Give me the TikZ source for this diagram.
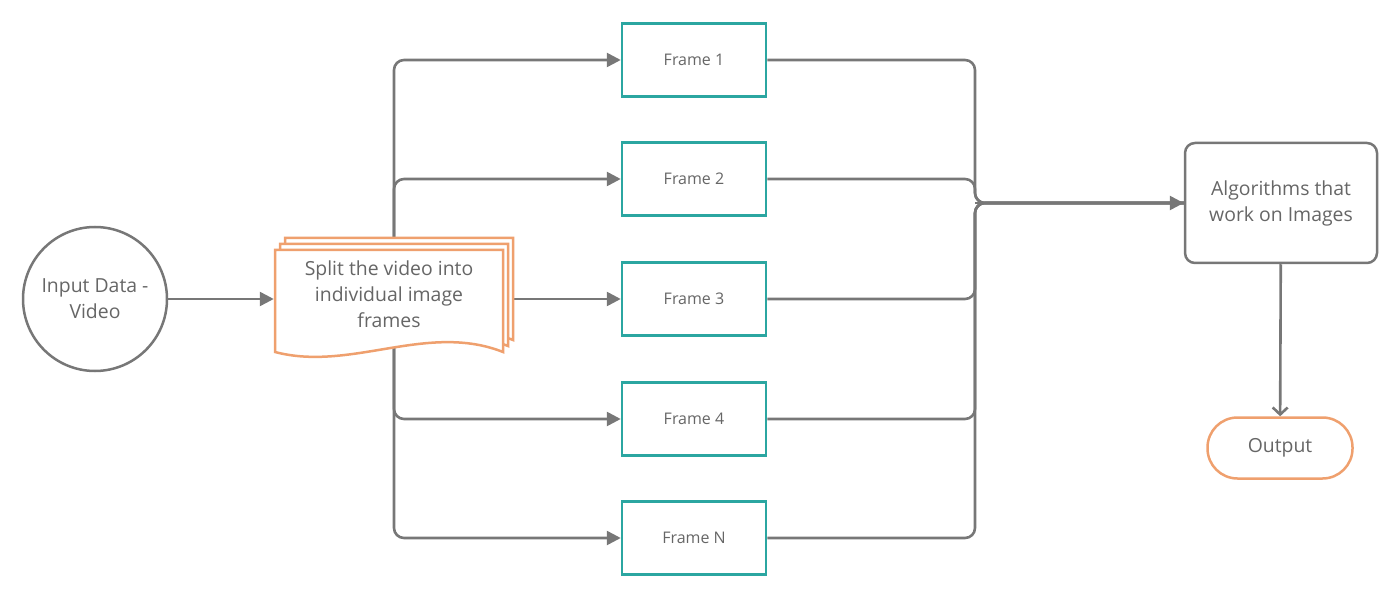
\documentclass[tikz,border=0pt]{standalone}
\usepackage{fontspec}
\setmainfont{Open Sans}
\usepackage{xcolor}
\usepackage{tikz}
\usetikzlibrary{arrows.meta}
\usetikzlibrary{backgrounds}
\usetikzlibrary{positioning}

\definecolor{linegray}{HTML}{777777}
\definecolor{textgray}{HTML}{666666}
\definecolor{framecol}{HTML}{2BA6A1}
\definecolor{pageorange}{HTML}{EFA06E}

\begin{document}
\begin{tikzpicture}[x=0.5pt,y=-0.5pt,line width=1.25pt,
  every node/.style={text=textgray,align=center,font=\fontsize{9.7}{13}\selectfont}]
	\tikzstyle{conn}=[draw=linegray, line width=1.3pt, rounded corners=5pt]
	\tikzstyle{arr}=[conn, -{Triangle[length=7pt,width=7pt]}]
	\tikzstyle{frm}=[draw=framecol, rectangle, minimum width=72pt, minimum height=36.5pt, font=\fontsize{8}{11}\selectfont]
	\tikzstyle{page}=[draw=pageorange, fill=white]
	\useasboundingbox (0,0) rectangle (1400,598);

	\node[draw=linegray, circle, minimum size=72pt, inner sep=0pt] (inp) at (95,299) {Input Data -\\Video};

	% stacked pages
	\foreach \o in {2,1,0}{
		\draw[page, shift={(5*\o,-6*\o)}] (275,250) -- (503,250) -- (503,352) .. controls (427,322) and (351,372) .. (275,352) -- cycle;
	}
	\node[inner sep=0pt, minimum width=114pt, minimum height=43pt] (doc) at (389,294) {Split the video into\\individual image\\frames};

	\foreach \i/\y/\t in {1/60/Frame 1, 2/179/Frame 2, 3/299/Frame 3, 4/419/Frame 4, 5/538/Frame N}{
		\node[frm] (f\i) at (694,\y) {\t};
	}

	\node[draw=linegray, rounded corners=5pt, minimum width=96pt, minimum height=60pt] (alg) at (1281,203) {Algorithms that\\work on Images};
	\node[draw=pageorange, rounded corners=15pt, minimum width=72.5pt, minimum height=30.5pt] (out) at (1280,448) {Output};

	\coordinate (spl) at (394,299);
	\coordinate (mrg) at (975,203);

	\draw[arr] (inp) -- (inp -| doc.west);
	\begin{scope}[on background layer]
		\foreach \i in {1,2,4,5}{
			\draw[arr] (spl) |- (f\i.west);
		}
		\draw[arr] (doc.east |- f3) -- (f3.west);
	\end{scope}

	\foreach \i in {1,...,5}{
		\draw[conn] (f\i.east) -| (mrg) -- (alg.west);
	}
	\draw[arr] (mrg) -- (alg.west);

	\draw[conn, -{Straight Barb[length=3.5pt,width=7.5pt]}] (alg) -- (out);
\end{tikzpicture}
\end{document}
